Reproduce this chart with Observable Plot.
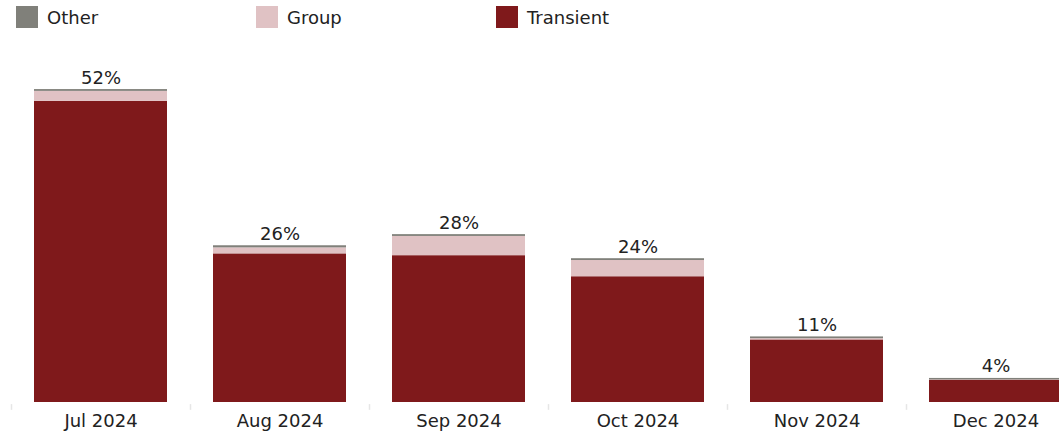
<!DOCTYPE html>
<html>
<head>
<meta charset="utf-8">
<script src="https://cdn.jsdelivr.net/npm/d3@7"></script>
<script src="https://cdn.jsdelivr.net/npm/@observablehq/plot@0.6"></script>
<style>
  html, body { margin: 0; padding: 0; background: #fff; overflow: hidden; width: 1059px; height: 437px; }
  #legend { position: relative; height: 40px; font-family: "DejaVu Sans", Verdana, sans-serif; font-size: 18px; color: #222; }
  .item { position: absolute; top: 6px; display: flex; align-items: center; height: 22px; }
  .sw { width: 22px; height: 22px; margin-right: 9px; }
  #chart svg { display: block; max-width: none !important; }
</style>
</head>
<body>
<div id="legend"></div>
<div id="chart"></div>
<script>
const months = ["Jul 2024", "Aug 2024", "Sep 2024", "Oct 2024", "Nov 2024", "Dec 2024"];
const transient = [50.05, 24.7, 24.4, 20.9, 10.4, 3.7];
const group = [1.66, 1.0, 3.2, 2.7, 0.2, 0.05];
const other = [0.3, 0.35, 0.3, 0.3, 0.3, 0.25];
const seriesNames = ["Transient", "Group", "Other"];
const seriesColors = ["#7f191b", "#e0c2c4", "#80807a"];
const legendOrder = ["Other", "Group", "Transient"];

const seriesValues = {Transient: transient, Group: group, Other: other};
const rows = [];
seriesNames.forEach(s => months.forEach((m, i) => rows.push({month: m, series: s, value: seriesValues[s][i]})));
const totals = months.map((m, i) => ({month: m, total: transient[i] + group[i] + other[i]}));

// legend
const legend = document.getElementById("legend");
legendOrder.forEach((name, i) => {
  const it = document.createElement("div");
  it.className = "item";
  it.style.left = (16 + i * 240) + "px";
  const sw = document.createElement("div");
  sw.className = "sw";
  sw.style.background = seriesColors[seriesNames.indexOf(name)];
  const tx = document.createElement("span");
  tx.textContent = name;
  it.appendChild(sw); it.appendChild(tx);
  legend.appendChild(it);
});

const W = 1090, ML = 11, MR = 5;
const step = (W - ML - MR) / months.length;

const chart = Plot.plot({
  width: W,
  height: 397,
  marginTop: 1,
  marginBottom: 35,
  marginLeft: ML,
  marginRight: MR,
  style: {fontFamily: "DejaVu Sans, Verdana, sans-serif", fontSize: "18px", color: "#222", background: "#fff", maxWidth: "none"},
  x: {domain: months, paddingInner: 0.257, paddingOuter: 0.1285, label: null},
  y: {domain: [0, 60], axis: null},
  color: {domain: seriesNames, range: seriesColors},
  marks: [
    Plot.barY(rows, Plot.stackY({x: "month", y: "value", fill: "series", order: seriesNames})),
    Plot.ruleX(months, {x: d => d, dx: -step / 2, y1: -0.35, y2: -1.3, stroke: "#e6e6e6", strokeWidth: 1.5}),
    Plot.text(totals, {x: "month", y: "total", text: d => Math.round(d.total) + "%", lineAnchor: "bottom", dy: -6, fill: "#222", fontSize: 18}),
    Plot.axisX({tickSize: 0, tickPadding: 12, fontSize: 18, fill: "#222"})
  ]
});
document.getElementById("chart").appendChild(chart);
</script>
</body>
</html>
